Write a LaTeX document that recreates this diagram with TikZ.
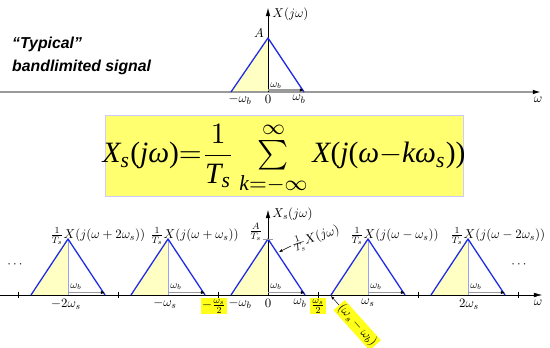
\documentclass[11pt,tikz,border=0pt]{standalone}
\usepackage{amsmath,amssymb}
\usepackage{graphicx}
\usepackage{fontspec}
\usepackage{xcolor}
\usepackage{tikz}
\usetikzlibrary{positioning,arrows.meta,calc}
\newfontfamily\labelsans{Liberation Sans}
\newfontfamily\formserif{Liberation Serif}
\newcommand\tsi[1]{\text{\formserif\itshape #1}}
\newcommand\tsu[1]{\text{\formserif #1}}
\definecolor{specBlue}{HTML}{1F2BE6}
\definecolor{halfYellow}{HTML}{FFFFC4}
\definecolor{boxYellow}{HTML}{FFFF70}
\definecolor{markYellow}{HTML}{FFFF1A}
\definecolor{axisGray}{HTML}{9A9A9A}

\begin{document}
\begin{tikzpicture}[x=0.03cm,y=-0.03cm,
  tri/.style={specBlue,line width=1.1pt,line join=round},
  midline/.style={specBlue!45,line width=0.6pt},
  bandarr/.style={axisGray,line width=1pt,-{Latex[length=3.5pt,width=3pt,color=black]}},
  axisarr/.style={-{Latex[length=7pt,width=4pt,color=black]}},
  hilite/.style={fill=markYellow,inner sep=1pt},
  lbl/.style={font=\normalsize,inner sep=1pt}]
  \useasboundingbox (0,0) rectangle (550,348);

  % top: the original spectrum
  \coordinate (tleft) at (231,92);
  \coordinate (tpeak) at (268,38);
  \coordinate (tright) at (304,92);
  \coordinate (tzero) at (268,92);
  \coordinate (taxisL) at (0,92);
  \coordinate (taxisR) at (541,92);
  \coordinate (ttop) at (268,8);
  \fill[halfYellow] (tleft) -- (tpeak) -- (tzero) -- cycle;
  \draw[axisarr,axisGray,line width=1.2pt] (taxisL) -- (taxisR);
  \draw[axisarr] (tzero) -- (ttop);
  \draw[tri] (tleft) -- (tpeak) -- (tright);
  \draw[bandarr] ($(tzero)+(0,-2)$) -- ($(tright)+(0,-2)$);

  \node[lbl,anchor=west] (tXlab) at (271,14) {$X(j\omega)$};
  \node[lbl] (tAlab) at (259,33) {$A$};
  \node[lbl,font=\footnotesize,anchor=south west] (twb) at (269,90) {$\omega_b$};
  \node[lbl,anchor=north] (tmwb) at (240,94) {$-\omega_b$};
  \node[lbl,anchor=north] (tz) at (268,94) {$0$};
  \node[lbl,anchor=north] (tpwb) at (299,94) {$\omega_b$};
  \node[lbl,anchor=north] (tom) at (538,96) {$\omega$};

  \node[font=\labelsans\bfseries\itshape\fontsize{13.5}{19}\selectfont,anchor=west,align=left,inner sep=0pt] (typtext) at (12,56)
    {\char"201CTypical\char"201D\\bandlimited signal};

  % the formula
  \draw[fill=boxYellow,draw=blue!20,line width=0.4pt] (105,115) rectangle (463,196);
  \node[anchor=base,inner sep=0pt] (formula) at (284,163) {\scalebox{2.3}{$\displaystyle
    \tsi{X}_{\tsi{s}}\tsu{(}\tsi{jω}\tsu{)}{=}\frac{1}{\tsi{T}_{\tsi{s}}}\,{\textstyle\sum\limits_{\tsi{k}=-\infty}^{\infty}}\,
    \tsi{X}\tsu{(}\tsi{j}\tsu{(}\tsi{ω}{-}\tsi{kω}_{\tsi{s}}\tsu{))}$}};

  % bottom: the sampled spectrum
  \coordinate (baxisL) at (0,295);
  \coordinate (baxisR) at (542,295);
  \coordinate (bzero) at (268,295);
  \coordinate (btop) at (268,210);
  \draw[axisarr] (baxisL) -- (baxisR);
  \foreach \c in {68,168,268,368,468}{
    \fill[halfYellow] (\c-37,295) -- (\c,239) -- (\c,295) -- cycle;
  }
  \foreach \c in {68,168,368,468}{
    \draw[midline] (\c,295) -- (\c,239);
  }
  \draw[axisarr] (bzero) -- (btop);
  \foreach \c in {68,168,268,368,468}{
    \draw[tri] (\c-37,295) -- (\c,239) -- (\c+37,295);
    \draw[bandarr] (\c,292.5) -- (\c+37,292.5);
    \node[lbl,font=\footnotesize,anchor=south west] at (\c+1,291) {$\omega_b$};
  }
  \foreach \t in {18,118,218,318,418,518}{
    \draw[line width=0.5pt] (\t,292) -- (\t,298);
  }
  \draw[axisGray,line width=0.6pt] (263,239) -- (273,239);

  \foreach \c/\arg in {68/{\omega+2\omega_s},168/{\omega+\omega_s},368/{\omega-\omega_s},468/{\omega-2\omega_s}}{
    \node[lbl,anchor=west] at (\c-19,236) {$\frac{1}{T_s}X(j(\arg))$};
  }
  \node[lbl,anchor=west] (bXlab) at (271,214) {$X_s(j\omega)$};
  \node[lbl,anchor=east] (bAlab) at (264,232) {$\frac{A}{T_s}$};
  \node[lbl] (ldots) at (16,265) {$\cdots$};
  \node[lbl] (rdots) at (520,265) {$\cdots$};

  \coordinate (cedge) at (279,252);
  \node[lbl,anchor=west,rotate=18] (centlab) at (291,246) {$\frac{1}{T_s}X(j\omega)$};
  \draw[-{Latex[length=3pt,width=2.5pt]},line width=0.4pt] (centlab.west) -- (cedge);

  \node[lbl,anchor=north] (lm2) at (66,298) {$-2\omega_s$};
  \node[lbl,anchor=north] (lm1) at (165,298) {$-\omega_s$};
  \node[lbl,anchor=north,hilite] (lmh) at (214,298) {$-\frac{\omega_s}{2}$};
  \node[lbl,anchor=north] (lmwb) at (240,298) {$-\omega_b$};
  \node[lbl,anchor=north] (lz) at (268,298) {$0$};
  \node[lbl,anchor=north] (lpwb) at (300,298) {$\omega_b$};
  \node[lbl,anchor=north,hilite] (lph) at (318,298) {$\frac{\omega_s}{2}$};
  \node[lbl,anchor=north] (lp1) at (368,298) {$\omega_s$};
  \node[lbl,anchor=north] (lp2) at (469,298) {$2\omega_s$};
  \node[lbl,anchor=north] (bom) at (538,299) {$\omega$};

  \coordinate (wsbase) at (331,296);
  \node[lbl,hilite,anchor=west,rotate=-48] (wslab) at (339,305) {$(\omega_s-\omega_b)$};
  \draw[-{Latex[length=3pt,width=2.5pt]},line width=0.4pt] (wslab.west) -- (wsbase);
\end{tikzpicture}
\end{document}
